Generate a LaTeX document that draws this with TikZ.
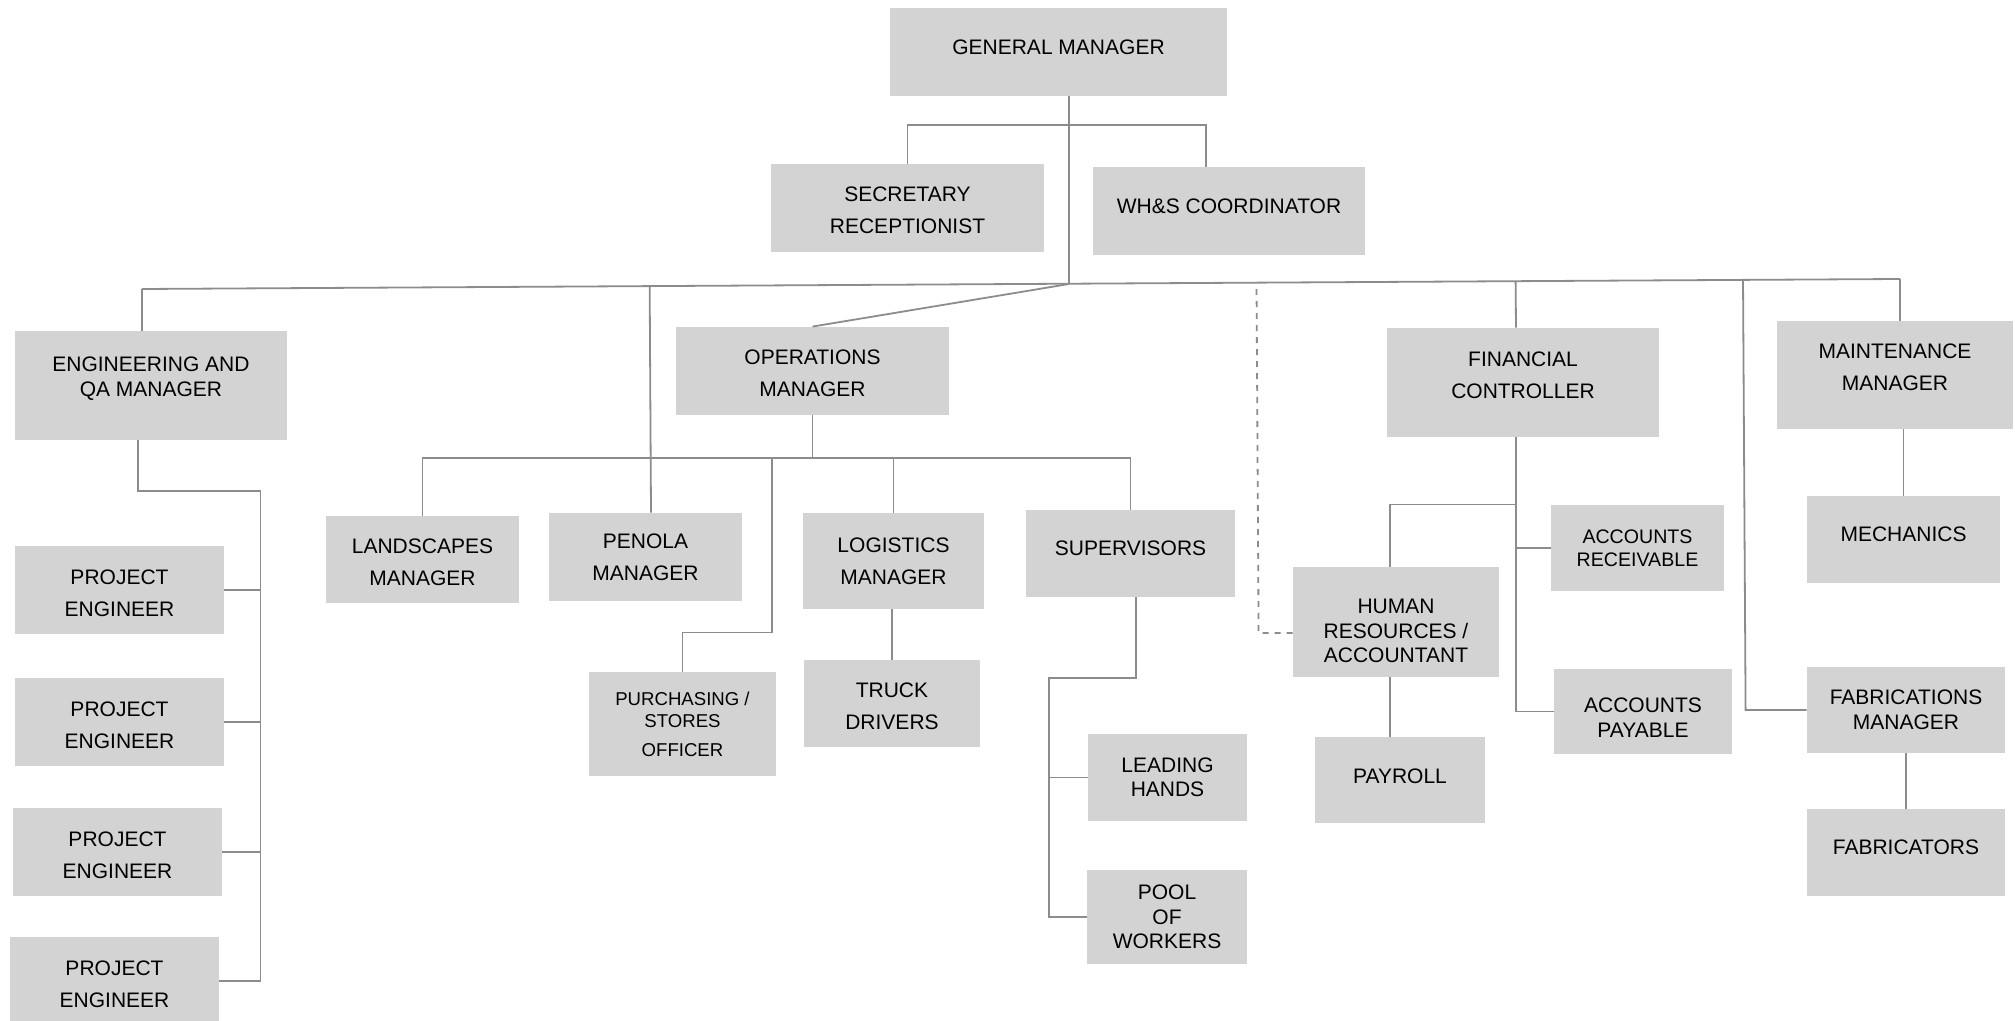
\documentclass[tikz,border=0pt]{standalone}
\usepackage{fontspec}
\setmainfont{Liberation Sans}
\usetikzlibrary{calc}
\definecolor{boxgray}{RGB}{211,211,211}
\definecolor{linegray}{RGB}{140,140,140}
\newcommand{\tup}[1]{\rule[-#1]{0pt}{#1}}
\newcommand{\tdn}[1]{\rule{0pt}{#1}}

\begin{document}
\begin{tikzpicture}[x=0.5pt,y=-0.5pt,
  box/.style 2 args={fill=boxgray, inner sep=0pt, align=center,
    minimum width=#1*0.5pt, minimum height=#2*0.5pt,
    font=\fontsize{10.5}{16}\selectfont},
  tight/.style={font=\fontsize{10.5}{12.25}\selectfont},
  conn/.style={draw=linegray, line width=0.9pt}]
\useasboundingbox (0,0) rectangle (2015,1021);

\node[box={337}{88}] (gm) at (1058.5,52) {GENERAL MANAGER\tup{5pt}};
\node[box={273}{88}] (sec) at (907.5,208) {\tdn{10pt}SECRETARY\\RECEPTIONIST};
\node[box={272}{88}] (whs) at (1229,211) {WH\&S COORDINATOR\tup{5pt}};
\node[box={272}{109},tight] (eng) at (151,385.5) {ENGINEERING AND\\QA MANAGER\tup{9pt}};
\node[box={273}{88}] (ops) at (812.5,371) {\tdn{10pt}OPERATIONS\\MANAGER};
\node[box={272}{109}] (fc) at (1523,382.5) {FINANCIAL\\CONTROLLER\tup{7pt}};
\node[box={236}{108}] (mnt) at (1895,375) {MAINTENANCE\\MANAGER\tup{8pt}};
\node[box={193}{87}] (land) at (422.5,559.5) {\tdn{10.5pt}LANDSCAPES\\MANAGER};
\node[box={193}{88}] (pen) at (645.5,557) {PENOLA\\MANAGER};
\node[box={181}{96}] (log) at (893.5,561) {LOGISTICS\\MANAGER};
\node[box={209}{87}] (sup) at (1130.5,553.5) {SUPERVISORS\tup{5pt}};
\node[box={187}{104},font=\fontsize{9.3}{11}\selectfont] (pur) at (682.5,724) {PURCHASING /\\STORES\\[3.5pt]OFFICER};
\node[box={176}{87}] (truck) at (892,703.5) {\tdn{10.5pt}TRUCK\\DRIVERS};
\node[box={159}{87},tight] (lead) at (1167.5,777.5) {LEADING\\HANDS};
\node[box={160}{94},tight] (pool) at (1167,917) {POOL\\OF\\WORKERS};
\node[box={206}{110},tight] (hr) at (1396,622) {\tdn{16.5pt}HUMAN\\RESOURCES /\\ACCOUNTANT};
\node[box={170}{86}] (pay) at (1400,780) {PAYROLL\tup{4pt}};
\node[box={173}{86},font=\fontsize{9.8}{11.5}\selectfont] (ar) at (1637.5,548) {ACCOUNTS\\RECEIVABLE};
\node[box={178}{85},tight] (ap) at (1643,711.5) {\tdn{13.5pt}ACCOUNTS\\PAYABLE};
\node[box={193}{87}] (mech) at (1903.5,539.5) {MECHANICS\tup{5pt}};
\node[box={198}{86},tight] (fabm) at (1906,710) {FABRICATIONS\\MANAGER};
\node[box={198}{87}] (fabr) at (1906,852.5) {FABRICATORS\tup{5pt}};
\foreach \i/\x/\y in {1/119.5/590,2/119.5/722,3/117.5/852,4/114.5/981}
  \node[box={209}{88}] (pe\i) at (\x,\y) {\tdn{10.5pt}PROJECT\\ENGINEER};

\coordinate (busL) at (142,289);
\coordinate (busR) at (1900,279);
\coordinate (hub) at (1069,284);
\coordinate (gmbr) at (1069,125);
\draw[conn] (busL) -- (busR);
\draw[conn] (gm.south -| hub) -- (hub);
\draw[conn] (sec.north) |- (gmbr) -| ($(whs.north)+(-23,0)$);
\draw[conn] (busL) -- (busL |- eng.north);
\draw[conn] (busR) -- (busR |- mnt.north);
\draw[conn] (hub) -- (ops.north);
\draw[conn] ($(busL)!($(pen.north)+(5.5,0)$)!(busR)$) -- ($(pen.north)+(5.5,0)$);
\draw[conn] ($(busL)!($(fc.north)+(-7,0)$)!(busR)$) -- ($(fc.north)+(-7,0)$);
\draw[conn,dashed] ($(hr.west)+(0,11)$) -- ++(-34,0) coordinate (hrd) -- ($(busL)!(hrd)!(busR)$);
\draw[conn] (fabm.west) -- ++(-61,0) coordinate (fabd) -- ($(busL)!(fabd)!(busR)$);

\draw[conn] (ops.south) -- ++(0,43) coordinate (opsb);
\draw[conn] (land.north) |- (opsb) -| (sup.north);
\draw[conn] (log.north) -- (log.north |- opsb);
\coordinate (purb) at (772,458);
\draw[conn] (pur.north) -- ++(0,-39) -| (purb);
\draw[conn] (truck.north |- log.south) -- (truck.north);
\draw[conn] ($(sup.south)+(5.5,0)$) -- ++(0,81) -| ($(pool.west)+(-38,0)$) coordinate (supd) -- (pool.west);
\draw[conn] (lead.west) -- (lead.west -| supd);

\coordinate (fcd) at ($(fc.south)+(-7,0)$);
\draw[conn] (fcd) -- (fcd |- ap.west) -- (ap.west);
\draw[conn] (ar.west) -- (ar.west -| fcd);
\draw[conn] ($(hr.north)+(-6,0)$) -- ++(0,-62) -| (fcd);
\draw[conn] ($(hr.south)+(-6,0)$) -- ($(hr.south |- pay.north)+(-6,0)$);
\draw[conn] (mech.north) -- (mech.north |- mnt.south);
\draw[conn] (fabr.north) -- (fabm.south);

\draw[conn] ($(eng.south)+(-13,0)$) -- ++(0,51) -| ($(pe4.east)+(41,0)$) coordinate (engd) -- (pe4.east);
\foreach \i in {1,2,3}
  \draw[conn] (pe\i.east) -- (pe\i.east -| engd);
\end{tikzpicture}
\end{document}
